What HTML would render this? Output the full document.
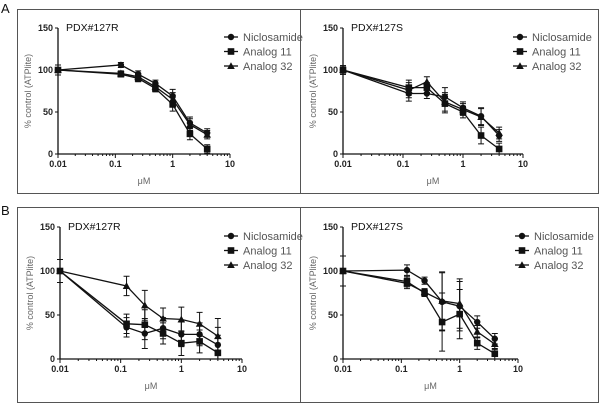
<!DOCTYPE html>
<html><head><meta charset="utf-8"><style>
html,body{margin:0;padding:0;background:#fff}
svg{display:block}
text{font-family:"Liberation Sans",sans-serif}
</style></head><body>
<svg id="fig" width="600" height="407" viewBox="0 0 600 407" xmlns="http://www.w3.org/2000/svg">
<text x="1" y="13" font-size="13" fill="#111">A</text>
<text x="1" y="215" font-size="13" fill="#111">B</text>
<rect x="17.5" y="9.5" width="283" height="184" fill="none" stroke="#555"/>
<rect x="300.5" y="9.5" width="298" height="184" fill="none" stroke="#555"/>
<rect x="17.5" y="207.5" width="283" height="195" fill="none" stroke="#555"/>
<rect x="300.5" y="207.5" width="298" height="195" fill="none" stroke="#555"/>
</svg>
<script>
const doses=[0.01,0.125,0.25,0.5,1,2,4];
const seriesNames=["Niclosamide","Analog 11","Analog 32"];
const xTickLabels=["0.01","0.1","1","10"];
const yTickLabels=["0","50","100","150"];
const aL_nic=[100,106,95,84,69,37,25];
const aL_a11=[100,95,90,78,59,24,6];
const aL_a32=[100,96,92,80,65,35,23];
const aL_err=[6,3,4,4,8,7,5];
const aR_nic=[100,72,72,68,55,45,22];
const aR_a11=[100,79,79,60,50,22,6];
const aR_a32=[100,76,86,62,53,44,25];
const aR_err=[5,9,6,11,7,10,7];
const bL_nic=[100,36,29,35,28,28,16];
const bL_a11=[100,40,39,29,18,20,7];
const bL_a32=[100,83,61,46,45,40,26];
const bL_err=[13,11,17,12,14,13,20];
const bR_nic=[100,101,89,65,60,42,23];
const bR_a11=[100,88,75,42,51,18,6];
const bR_a32=[100,86,76,66,63,31,17];
const bR_err=[17,6,4,33,28,7,6];

const NS="http://www.w3.org/2000/svg";
const svg=document.getElementById('fig');
function mk(tag,attrs,parent){const e=document.createElementNS(NS,tag);for(const k in attrs)e.setAttribute(k,attrs[k]);(parent||svg).appendChild(e);return e;}

const panels=[
 {id:"a-left",title:"PDX#127R",x0:58,x1:230,y0:154,y1:28,lx:233,ly:37,data:[aL_nic,aL_a11,aL_a32],err:aL_err},
 {id:"a-right",title:"PDX#127S",x0:343,x1:523,y0:154,y1:28,lx:522,ly:37,data:[aR_nic,aR_a11,aR_a32],err:aR_err},
 {id:"b-left",title:"PDX#127R",x0:60,x1:242,y0:359,y1:227,lx:233,ly:236,data:[bL_nic,bL_a11,bL_a32],err:bL_err},
 {id:"b-right",title:"PDX#127S",x0:343,x1:518,y0:359,y1:227,lx:524,ly:236,data:[bR_nic,bR_a11,bR_a32],err:bR_err}
];

function marker(kind,cx,cy,g){
  let e;
  if(kind===0){e=mk('circle',{cx:cx,cy:cy,r:3.2,fill:'#111'},g);}
  else if(kind===1){e=mk('rect',{x:cx-3.3,y:cy-3.3,width:6.6,height:6.6,fill:'#111'},g);}
  else{e=mk('polygon',{points:`${cx},${cy-3.8} ${cx+3.8},${cy+3} ${cx-3.8},${cy+3}`,fill:'#111'},g);}
  return e;
}

panels.forEach(p=>{
  const g=mk('g',{});
  
  
  const xs=v=>p.x0+(Math.log10(v)+2)/3*(p.x1-p.x0);
  const ys=v=>p.y0+(v/150)*(p.y1-p.y0);
  // axes
  const ax=mk('path',{d:`M${p.x0},${ys(150)}V${p.y0}H${p.x1}`,stroke:'#111','stroke-width':1.3,fill:'none'},g);
  
  
  yTickLabels.forEach(t=>{
    const y=ys(+t);
    mk('line',{x1:p.x0-3,x2:p.x0,y1:y,y2:y,stroke:'#111'},g);
    const tx=mk('text',{x:p.x0-5,y:y+3,'font-size':9,'font-weight':'bold','text-anchor':'end',fill:'#222'},g);
    tx.textContent=t;
    
    
  });
  for(let d=-2;d<1;d++){for(let m=2;m<10;m++){const x=xs(m*Math.pow(10,d));mk('line',{x1:x,x2:x,y1:p.y0,y2:p.y0+2,stroke:'#111'},g);}}
  xTickLabels.forEach(t=>{
    const x=xs(+t);
    mk('line',{x1:x,x2:x,y1:p.y0,y2:p.y0+4,stroke:'#111'},g);
    const tx=mk('text',{x:x,y:p.y0+13,'font-size':9,'font-weight':'bold','text-anchor':'middle',fill:'#222'},g);
    tx.textContent=t;
    
    
  });
  const xt=mk('text',{x:(p.x0+p.x1)/2,y:p.y0+30,'font-size':9,'text-anchor':'middle',fill:'#666'},g);
  xt.textContent='μM';
  
  
  const ymid=(p.y0+ys(150))/2;
  const yt=mk('text',{x:p.x0-27,y:ymid,'font-size':9,'text-anchor':'middle',fill:'#666',transform:`rotate(-90 ${p.x0-27} ${ymid})`},g);
  yt.textContent='% control (ATPlite)';
  
  
  const tt=mk('text',{x:p.x0+8,y:ys(150)+3,'font-size':10.5,fill:'#111'},g);
  tt.textContent=p.title;
  
  
  // series
  p.data.forEach((vals,si)=>{
    const sg=mk('g',{},g);
    
    
    const pts=doses.map((d,i)=>xs(d)+','+ys(vals[i])).join(' ');
    mk('polyline',{points:pts,fill:'none',stroke:'#111','stroke-width':1.3},sg);
    doses.forEach((d,i)=>{
      const x=xs(d),e=p.err[i];
      const yt2=ys(vals[i]+e),yb=ys(Math.max(0,vals[i]-e));
      mk('path',{d:`M${x},${yt2}V${yb}M${x-3},${yt2}H${x+3}M${x-3},${yb}H${x+3}`,stroke:'#111','stroke-width':1},sg);
      const m=marker(si,x,ys(vals[i]),sg);
      
      
    });
  });
  // legend
  seriesNames.forEach((n,si)=>{
    const lg=mk('g',{},g);
    
    
    const y=p.ly+si*14.5;
    mk('line',{x1:p.lx-9,x2:p.lx+5,y1:y,y2:y,stroke:'#111','stroke-width':1.3},lg);
    marker(si,p.lx-2,y,lg);
    const t=mk('text',{x:p.lx+10,y:y+4,'font-size':11,fill:'#555'},lg);
    t.textContent=n;
  });
});
</script>
</body></html>
